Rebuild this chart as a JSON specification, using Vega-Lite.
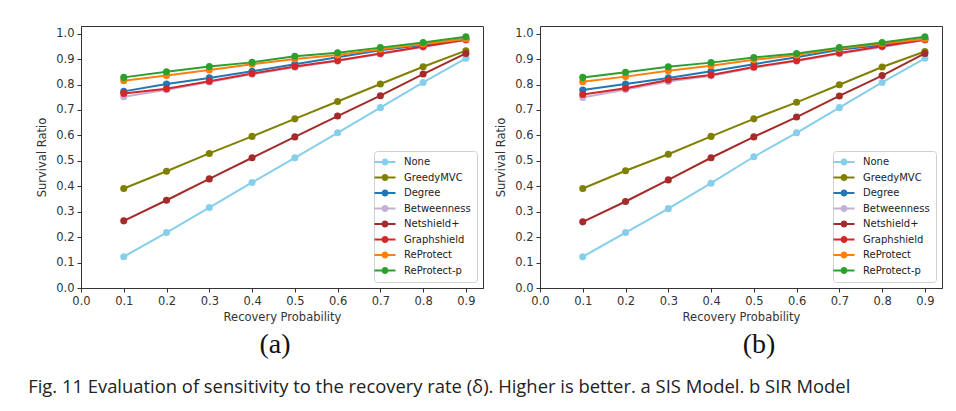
{
  "$schema": "https://vega.github.io/schema/vega-lite/v6.json",
  "background": "white",
  "padding": {"left": 28, "top": 25, "right": 5, "bottom": 5},
  "title": {"text": "Fig. 11  Evaluation of sensitivity to the recovery rate (δ). Higher is better. a SIS Model. b SIR Model", "orient": "bottom", "anchor": "start", "font": "Open Sans", "fontSize": 18.4, "fontWeight": "normal", "color": "#222", "offset": 18, "dx": -8},
  "datasets": {
    "a": [
      {"x": 0.1, "m": "None", "y": 0.123}, {"x": 0.2, "m": "None", "y": 0.218}, {"x": 0.3, "m": "None", "y": 0.316}, {"x": 0.4, "m": "None", "y": 0.415}, {"x": 0.5, "m": "None", "y": 0.512}, {"x": 0.6, "m": "None", "y": 0.610}, {"x": 0.7, "m": "None", "y": 0.709}, {"x": 0.8, "m": "None", "y": 0.808}, {"x": 0.9, "m": "None", "y": 0.903},
      {"x": 0.1, "m": "GreedyMVC", "y": 0.391}, {"x": 0.2, "m": "GreedyMVC", "y": 0.459}, {"x": 0.3, "m": "GreedyMVC", "y": 0.529}, {"x": 0.4, "m": "GreedyMVC", "y": 0.596}, {"x": 0.5, "m": "GreedyMVC", "y": 0.665}, {"x": 0.6, "m": "GreedyMVC", "y": 0.733}, {"x": 0.7, "m": "GreedyMVC", "y": 0.802}, {"x": 0.8, "m": "GreedyMVC", "y": 0.870}, {"x": 0.9, "m": "GreedyMVC", "y": 0.933},
      {"x": 0.1, "m": "Degree", "y": 0.773}, {"x": 0.2, "m": "Degree", "y": 0.802}, {"x": 0.3, "m": "Degree", "y": 0.826}, {"x": 0.4, "m": "Degree", "y": 0.852}, {"x": 0.5, "m": "Degree", "y": 0.880}, {"x": 0.6, "m": "Degree", "y": 0.907}, {"x": 0.7, "m": "Degree", "y": 0.935}, {"x": 0.8, "m": "Degree", "y": 0.955}, {"x": 0.9, "m": "Degree", "y": 0.980},
      {"x": 0.1, "m": "Betweenness", "y": 0.752}, {"x": 0.2, "m": "Betweenness", "y": 0.779}, {"x": 0.3, "m": "Betweenness", "y": 0.810}, {"x": 0.4, "m": "Betweenness", "y": 0.840}, {"x": 0.5, "m": "Betweenness", "y": 0.868}, {"x": 0.6, "m": "Betweenness", "y": 0.892}, {"x": 0.7, "m": "Betweenness", "y": 0.920}, {"x": 0.8, "m": "Betweenness", "y": 0.947}, {"x": 0.9, "m": "Betweenness", "y": 0.975},
      {"x": 0.1, "m": "Netshield+", "y": 0.264}, {"x": 0.2, "m": "Netshield+", "y": 0.345}, {"x": 0.3, "m": "Netshield+", "y": 0.429}, {"x": 0.4, "m": "Netshield+", "y": 0.512}, {"x": 0.5, "m": "Netshield+", "y": 0.594}, {"x": 0.6, "m": "Netshield+", "y": 0.676}, {"x": 0.7, "m": "Netshield+", "y": 0.756}, {"x": 0.8, "m": "Netshield+", "y": 0.841}, {"x": 0.9, "m": "Netshield+", "y": 0.922},
      {"x": 0.1, "m": "Graphshield", "y": 0.765}, {"x": 0.2, "m": "Graphshield", "y": 0.783}, {"x": 0.3, "m": "Graphshield", "y": 0.813}, {"x": 0.4, "m": "Graphshield", "y": 0.843}, {"x": 0.5, "m": "Graphshield", "y": 0.871}, {"x": 0.6, "m": "Graphshield", "y": 0.894}, {"x": 0.7, "m": "Graphshield", "y": 0.922}, {"x": 0.8, "m": "Graphshield", "y": 0.949}, {"x": 0.9, "m": "Graphshield", "y": 0.976},
      {"x": 0.1, "m": "ReProtect", "y": 0.815}, {"x": 0.2, "m": "ReProtect", "y": 0.835}, {"x": 0.3, "m": "ReProtect", "y": 0.857}, {"x": 0.4, "m": "ReProtect", "y": 0.880}, {"x": 0.5, "m": "ReProtect", "y": 0.900}, {"x": 0.6, "m": "ReProtect", "y": 0.916}, {"x": 0.7, "m": "ReProtect", "y": 0.939}, {"x": 0.8, "m": "ReProtect", "y": 0.959}, {"x": 0.9, "m": "ReProtect", "y": 0.979},
      {"x": 0.1, "m": "ReProtect-p", "y": 0.828}, {"x": 0.2, "m": "ReProtect-p", "y": 0.850}, {"x": 0.3, "m": "ReProtect-p", "y": 0.871}, {"x": 0.4, "m": "ReProtect-p", "y": 0.887}, {"x": 0.5, "m": "ReProtect-p", "y": 0.911}, {"x": 0.6, "m": "ReProtect-p", "y": 0.925}, {"x": 0.7, "m": "ReProtect-p", "y": 0.945}, {"x": 0.8, "m": "ReProtect-p", "y": 0.965}, {"x": 0.9, "m": "ReProtect-p", "y": 0.988}
    ],
    "b": [
      {"x": 0.1, "m": "None", "y": 0.123}, {"x": 0.2, "m": "None", "y": 0.218}, {"x": 0.3, "m": "None", "y": 0.312}, {"x": 0.4, "m": "None", "y": 0.412}, {"x": 0.5, "m": "None", "y": 0.516}, {"x": 0.6, "m": "None", "y": 0.610}, {"x": 0.7, "m": "None", "y": 0.709}, {"x": 0.8, "m": "None", "y": 0.808}, {"x": 0.9, "m": "None", "y": 0.903},
      {"x": 0.1, "m": "GreedyMVC", "y": 0.391}, {"x": 0.2, "m": "GreedyMVC", "y": 0.461}, {"x": 0.3, "m": "GreedyMVC", "y": 0.526}, {"x": 0.4, "m": "GreedyMVC", "y": 0.596}, {"x": 0.5, "m": "GreedyMVC", "y": 0.665}, {"x": 0.6, "m": "GreedyMVC", "y": 0.730}, {"x": 0.7, "m": "GreedyMVC", "y": 0.799}, {"x": 0.8, "m": "GreedyMVC", "y": 0.869}, {"x": 0.9, "m": "GreedyMVC", "y": 0.930},
      {"x": 0.1, "m": "Degree", "y": 0.778}, {"x": 0.2, "m": "Degree", "y": 0.802}, {"x": 0.3, "m": "Degree", "y": 0.826}, {"x": 0.4, "m": "Degree", "y": 0.852}, {"x": 0.5, "m": "Degree", "y": 0.880}, {"x": 0.6, "m": "Degree", "y": 0.907}, {"x": 0.7, "m": "Degree", "y": 0.937}, {"x": 0.8, "m": "Degree", "y": 0.955}, {"x": 0.9, "m": "Degree", "y": 0.980},
      {"x": 0.1, "m": "Betweenness", "y": 0.749}, {"x": 0.2, "m": "Betweenness", "y": 0.780}, {"x": 0.3, "m": "Betweenness", "y": 0.812}, {"x": 0.4, "m": "Betweenness", "y": 0.834}, {"x": 0.5, "m": "Betweenness", "y": 0.866}, {"x": 0.6, "m": "Betweenness", "y": 0.892}, {"x": 0.7, "m": "Betweenness", "y": 0.921}, {"x": 0.8, "m": "Betweenness", "y": 0.947}, {"x": 0.9, "m": "Betweenness", "y": 0.975},
      {"x": 0.1, "m": "Netshield+", "y": 0.260}, {"x": 0.2, "m": "Netshield+", "y": 0.340}, {"x": 0.3, "m": "Netshield+", "y": 0.425}, {"x": 0.4, "m": "Netshield+", "y": 0.512}, {"x": 0.5, "m": "Netshield+", "y": 0.594}, {"x": 0.6, "m": "Netshield+", "y": 0.672}, {"x": 0.7, "m": "Netshield+", "y": 0.755}, {"x": 0.8, "m": "Netshield+", "y": 0.835}, {"x": 0.9, "m": "Netshield+", "y": 0.922},
      {"x": 0.1, "m": "Graphshield", "y": 0.761}, {"x": 0.2, "m": "Graphshield", "y": 0.785}, {"x": 0.3, "m": "Graphshield", "y": 0.818}, {"x": 0.4, "m": "Graphshield", "y": 0.837}, {"x": 0.5, "m": "Graphshield", "y": 0.869}, {"x": 0.6, "m": "Graphshield", "y": 0.894}, {"x": 0.7, "m": "Graphshield", "y": 0.924}, {"x": 0.8, "m": "Graphshield", "y": 0.950}, {"x": 0.9, "m": "Graphshield", "y": 0.976},
      {"x": 0.1, "m": "ReProtect", "y": 0.811}, {"x": 0.2, "m": "ReProtect", "y": 0.831}, {"x": 0.3, "m": "ReProtect", "y": 0.854}, {"x": 0.4, "m": "ReProtect", "y": 0.874}, {"x": 0.5, "m": "ReProtect", "y": 0.897}, {"x": 0.6, "m": "ReProtect", "y": 0.916}, {"x": 0.7, "m": "ReProtect", "y": 0.942}, {"x": 0.8, "m": "ReProtect", "y": 0.961}, {"x": 0.9, "m": "ReProtect", "y": 0.979},
      {"x": 0.1, "m": "ReProtect-p", "y": 0.828}, {"x": 0.2, "m": "ReProtect-p", "y": 0.848}, {"x": 0.3, "m": "ReProtect-p", "y": 0.870}, {"x": 0.4, "m": "ReProtect-p", "y": 0.886}, {"x": 0.5, "m": "ReProtect-p", "y": 0.906}, {"x": 0.6, "m": "ReProtect-p", "y": 0.922}, {"x": 0.7, "m": "ReProtect-p", "y": 0.945}, {"x": 0.8, "m": "ReProtect-p", "y": 0.965}, {"x": 0.9, "m": "ReProtect-p", "y": 0.988}
    ]
  },
  "spacing": 11,
  "resolve": {"scale": {"color": "independent"}, "legend": {"color": "independent"}},
  "hconcat": [
    {
      "data": {"name": "a"},
      "width": 402, "height": 262,
      "title": {"text": "(a)", "orient": "bottom", "anchor": "middle", "font": "Liberation Serif", "fontSize": 28, "fontWeight": "normal", "color": "#111", "dx": -7, "offset": 8},
      "view": {"stroke": "#333", "strokeWidth": 1},
      "encoding": {
        "x": {"field": "x", "type": "quantitative", "scale": {"domain": [0, 0.94], "nice": false, "zero": false}, "axis": {"values": [0, 0.1, 0.2, 0.3, 0.4, 0.5, 0.6, 0.7, 0.8, 0.9], "format": ".1f", "title": "Recovery Probability", "titlePadding": 5}},
        "y": {"field": "y", "type": "quantitative", "scale": {"domain": [0, 1.03], "nice": false}, "axis": {"values": [0, 0.1, 0.2, 0.3, 0.4, 0.5, 0.6, 0.7, 0.8, 0.9, 1.0], "format": ".1f", "title": "Survival Ratio", "titlePadding": 8}},
        "color": {"field": "m", "type": "nominal", "sort": null,
          "scale": {"domain": ["None", "GreedyMVC", "Degree", "Betweenness", "Netshield+", "Graphshield", "ReProtect", "ReProtect-p"], "range": ["#87ceeb", "#808000", "#1f77b4", "#c5b0d5", "#a52a2a", "#d62728", "#ff7f0e", "#2ca02c"]},
          "legend": {"title": null, "orient": "bottom-right", "offset": 6, "symbolType": "M -2.1 -0.2 L 2.1 -0.2 L 2.1 0.2 L -2.1 0.2 Z M -0.7 0 A 0.7 0.7 0 1 1 0.7 0 A 0.7 0.7 0 1 1 -0.7 0 Z", "symbolSize": 100, "symbolStrokeWidth": 0, "symbolOpacity": 1, "labelFont": "DejaVu Sans", "labelFontSize": 10, "labelColor": "#222", "labelOffset": 14, "rowPadding": 5.5, "padding": 6, "strokeColor": "#d0d0d0", "fillColor": "rgba(255,255,255,0.85)", "cornerRadius": 3}}
      },
      "layer": [
        {"mark": {"type": "line", "strokeWidth": 2}},
        {"mark": {"type": "point", "filled": true, "size": 50, "opacity": 1}}
      ]
    },
    {
      "data": {"name": "b"},
      "width": 402, "height": 262,
      "title": {"text": "(b)", "orient": "bottom", "anchor": "middle", "font": "Liberation Serif", "fontSize": 28, "fontWeight": "normal", "color": "#111", "dx": 18, "offset": 8},
      "view": {"stroke": "#333", "strokeWidth": 1},
      "encoding": {
        "x": {"field": "x", "type": "quantitative", "scale": {"domain": [0, 0.94], "nice": false, "zero": false}, "axis": {"values": [0, 0.1, 0.2, 0.3, 0.4, 0.5, 0.6, 0.7, 0.8, 0.9], "format": ".1f", "title": "Recovery Probability", "titlePadding": 5}},
        "y": {"field": "y", "type": "quantitative", "scale": {"domain": [0, 1.03], "nice": false}, "axis": {"values": [0, 0.1, 0.2, 0.3, 0.4, 0.5, 0.6, 0.7, 0.8, 0.9, 1.0], "format": ".1f", "title": "Survival Ratio", "titlePadding": 8}},
        "color": {"field": "m", "type": "nominal", "sort": null,
          "scale": {"domain": ["None", "GreedyMVC", "Degree", "Betweenness", "Netshield+", "Graphshield", "ReProtect", "ReProtect-p"], "range": ["#87ceeb", "#808000", "#1f77b4", "#c5b0d5", "#a52a2a", "#d62728", "#ff7f0e", "#2ca02c"]},
          "legend": {"title": null, "orient": "bottom-right", "offset": 6, "symbolType": "M -2.1 -0.2 L 2.1 -0.2 L 2.1 0.2 L -2.1 0.2 Z M -0.7 0 A 0.7 0.7 0 1 1 0.7 0 A 0.7 0.7 0 1 1 -0.7 0 Z", "symbolSize": 100, "symbolStrokeWidth": 0, "symbolOpacity": 1, "labelFont": "DejaVu Sans", "labelFontSize": 10, "labelColor": "#222", "labelOffset": 14, "rowPadding": 5.5, "padding": 6, "strokeColor": "#d0d0d0", "fillColor": "rgba(255,255,255,0.85)", "cornerRadius": 3}}
      },
      "layer": [
        {"mark": {"type": "line", "strokeWidth": 2}},
        {"mark": {"type": "point", "filled": true, "size": 50, "opacity": 1}}
      ]
    }
  ],
  "config": {
    "view": {"stroke": "#333"},
    "axis": {"labelFont": "DejaVu Sans", "labelFontSize": 11.5, "labelColor": "#333", "titleFont": "DejaVu Sans", "titleFontSize": 11.5, "titleFontWeight": "normal", "titleColor": "#333", "tickColor": "#333", "domainColor": "#333", "tickSize": 4, "grid": false, "labelPadding": 3, "labelFlush": false, "labelOverlap": false}
  }
}
